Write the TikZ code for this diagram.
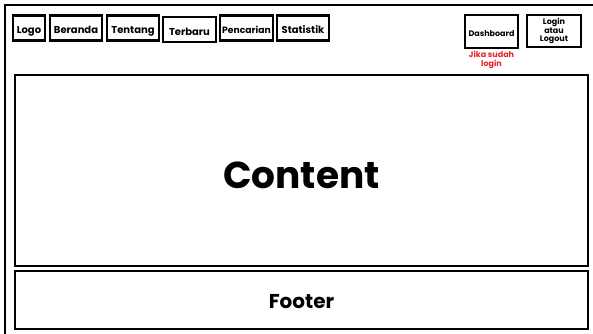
\documentclass[tikz,border=0pt]{standalone}
\usepackage{fontspec}
\setmainfont{Poppins}
\definecolor{redtxt}{RGB}{235,30,40}
\tikzset{
  frame/.style={draw=black, line width=2pt},
  box/.style={draw=black, line width=2.4pt, inner sep=0pt},
  navbox/.style={box, minimum height=25pt, text height=11.5pt, text depth=0pt,
    font=\bfseries\fontsize{10}{11}\selectfont},
  smallbox/.style={box, align=center},
  note/.style={text=redtxt, font=\bfseries\fontsize{8}{9}\selectfont, align=center, inner sep=0pt},
}
\begin{document}
\begin{tikzpicture}[x=1pt,y=-1pt]
\useasboundingbox (0,0) rectangle (593,333);
\clip (0,0) rectangle (593,333);
\draw[frame] (5,345) -- (5,4.5) -- (600,4.5);
\node[navbox, minimum width=32pt] (logo) at (29,28) {Logo};
\node[navbox, minimum width=52pt] (beranda) at (76,28) {Beranda};
\node[navbox, minimum width=52pt] (tentang) at (133,28) {Tentang};
\node[navbox, minimum width=53pt] (terbaru) at (189.5,29.5) {Terbaru};
\node[navbox, minimum width=53pt, font=\bfseries\fontsize{9.2}{10}\selectfont, text height=11pt] (pencarian) at (246.5,28) {Pencarian};
\node[navbox, minimum width=52pt] (statistik) at (303,28) {Statistik};
\node[smallbox, minimum width=53pt, minimum height=33pt, text height=10.4pt, text depth=0pt,
  font=\bfseries\fontsize{8}{9}\selectfont] (dashboard) at (491.5,31.5) {Dashboard};
\node[smallbox, minimum width=54pt, minimum height=32pt,
  font=\bfseries\fontsize{8}{8.7}\selectfont] (login) at (554,31) {Login\\atau\\Logout};
\node[note, anchor=north] (jika) at (491.5,50.5) {Jika sudah\\login};
\node[box, minimum width=573pt, minimum height=191pt, text height=35pt, text depth=0pt,
  font=\bfseries\fontsize{37.5}{40}\selectfont] (content) at (301.5,170.5) {Content};
\node[box, minimum width=573pt, minimum height=58pt, text height=16pt, text depth=0pt,
  font=\bfseries\fontsize{20}{22}\selectfont] (footer) at (301.5,300) {Footer};
\end{tikzpicture}
\end{document}
